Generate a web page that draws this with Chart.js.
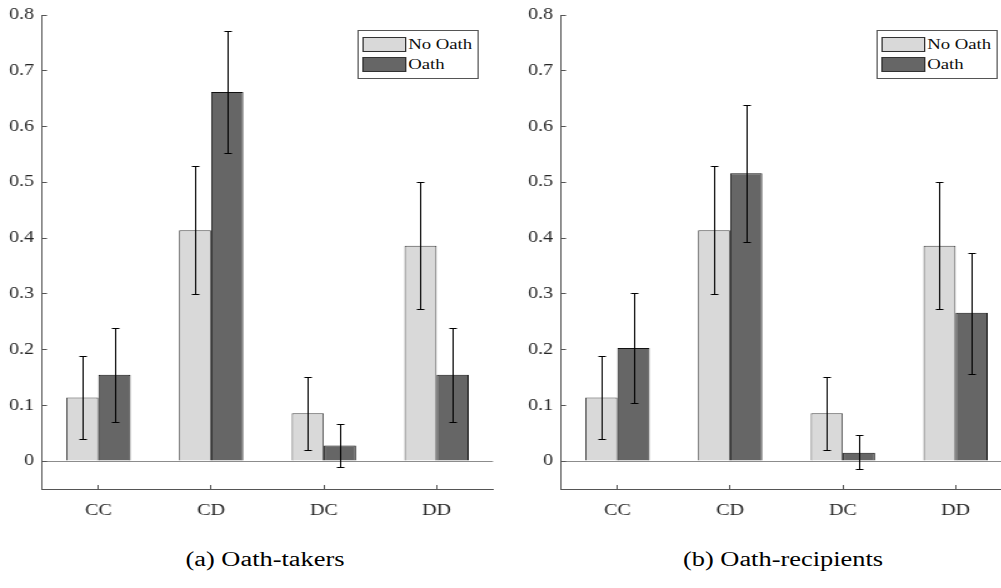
<!DOCTYPE html>
<html>
<head>
<meta charset="utf-8">
<script src="https://cdn.jsdelivr.net/npm/chart.js@4"></script>
<style>
    html, body { margin: 0; padding: 0; width: 1001px; height: 588px; overflow: hidden; background: #fff; }
    body { position: relative; font-family: 'Liberation Serif', 'DejaVu Serif', serif; color: #222; }
    /* the source figure is stretched sideways, so each panel is drawn narrow and widened */
    .panel { position: absolute; top: 0; width: 400px; height: 520px; transform: scaleX(1.25); transform-origin: 0 0; }
    .legend { position: absolute; left: 285.5px; top: 30px; width: 95px; height: 47px; border: 1px solid #555; background: #fff; }
    .item { position: absolute; left: 3px; height: 15px; line-height: 15px; font-size: 15px; white-space: nowrap; color: #111; }
    .swatch { display: inline-block; width: 33px; height: 13px; border: 1px solid #333; vertical-align: top; }
    .item span { position: absolute; left: 37px; top: 0; }
    .caption { position: absolute; top: 547px; width: 200px; text-align: center; font-size: 20px; line-height: 24px; color: #000; transform: scaleX(1.32); transform-origin: 50% 0; white-space: nowrap; }
</style>
</head>
<body>
<div class="panel" style="left:0px"><canvas id="chartA" width="400" height="520"></canvas><div class="legend" id="legendA"></div></div>
<div class="panel" style="left:519px"><canvas id="chartB" width="400" height="520"></canvas><div class="legend" id="legendB"></div></div>
<div class="caption" style="left:165px">(a) Oath-takers</div>
<div class="caption" style="left:683px">(b) Oath-recipients</div>
<script>
const categories = ['CC', 'CD', 'DC', 'DD']
const yTicks = [0, 0.1, 0.2, 0.3, 0.4, 0.5, 0.6, 0.7, 0.8]
const seriesNames = ['No Oath', 'Oath']
const seriesColors = ['#d9d9d9', '#666666']

// same control group in both panels
const noOath = [0.114, 0.414, 0.086, 0.386]
const noOathLow = [0.040, 0.299, 0.020, 0.272]
const noOathHigh = [0.189, 0.530, 0.151, 0.500]

const takersOath = [0.155, 0.662, 0.028, 0.155]
const takersOathLow = [0.071, 0.552, -0.010, 0.071]
const takersOathHigh = [0.239, 0.772, 0.067, 0.239]

const recipientsOath = [0.203, 0.516, 0.015, 0.266]
const recipientsOathLow = [0.104, 0.393, -0.015, 0.157]
const recipientsOathHigh = [0.302, 0.638, 0.046, 0.374]

const tickFont = { family: "'Liberation Serif', 'DejaVu Serif', serif", size: 16 }
const axisColor = '#555'

const errorBars = {
    id: 'errorBars',
    afterDatasetsDraw(chart) {
        const ctx = chart.ctx
        const y = chart.scales.y
        ctx.save()
        ctx.strokeStyle = '#000'
        ctx.lineWidth = 1
        chart.data.datasets.forEach((ds, i) => {
            chart.getDatasetMeta(i).data.forEach((bar, j) => {
                const x = Math.round(bar.x) + 0.5
                const top = Math.round(y.getPixelForValue(ds.high[j])) + 0.5
                const bottom = Math.round(y.getPixelForValue(ds.low[j])) + 0.5
                ctx.beginPath()
                ctx.moveTo(x, top)
                ctx.lineTo(x, bottom)
                ctx.moveTo(x - 3, top)
                ctx.lineTo(x + 3, top)
                ctx.moveTo(x - 3, bottom)
                ctx.lineTo(x + 3, bottom)
                ctx.stroke()
            })
        })
        ctx.restore()
    },
}

function makeChart(canvasId, legendId, oath, oathLow, oathHigh) {
    const data = {
        labels: categories,
        datasets: [
            {
                label: seriesNames[0],
                data: noOath,
                low: noOathLow,
                high: noOathHigh,
                backgroundColor: seriesColors[0],
                borderColor: '#444',
                borderWidth: 1,
            },
            {
                label: seriesNames[1],
                data: oath,
                low: oathLow,
                high: oathHigh,
                backgroundColor: seriesColors[1],
                borderColor: '#111',
                borderWidth: 1,
            },
        ],
    }

    const config = {
        type: 'bar',
        data: data,
        options: {
            responsive: false,
            animation: false,
            devicePixelRatio: 1,
            categoryPercentage: 0.57,
            barPercentage: 1,
            layout: { padding: { top: 15, right: 5.6, left: 0, bottom: 0 } },
            plugins: { legend: { display: false }, tooltip: { enabled: false } },
            scales: {
                x: {
                    grid: { offset: false, drawOnChartArea: false, tickLength: -4, tickColor: axisColor },
                    border: { color: axisColor },
                    ticks: { font: tickFont, color: '#262626', padding: 16 },
                    afterFit: (s) => { s.height = 31 },
                },
                y: {
                    min: -0.05,
                    max: 0.8,
                    afterBuildTicks: (s) => { s.ticks = yTicks.map((v) => ({ value: v })) },
                    grid: {
                        color: (c) => (c.tick && c.tick.value === 0 ? '#8c8c8c' : 'rgba(0,0,0,0)'),
                        tickColor: axisColor,
                        tickLength: -4,
                    },
                    border: { color: axisColor },
                    ticks: {
                        font: tickFont,
                        color: '#262626',
                        padding: 10.4,
                        callback: (v) => (v === 0 ? '0' : v.toFixed(1)),
                    },
                    afterFit: (s) => {
                        s.width = 33.6
                        s.paddingTop = 0
                        s.paddingBottom = 0
                    },
                },
            },
        },
        plugins: [errorBars],
    }

    const chart = new Chart(document.getElementById(canvasId), config)

    const legend = document.getElementById(legendId)
    chart.data.datasets.forEach((ds, i) => {
        const item = document.createElement('div')
        item.className = 'item'
        item.style.top = (6 + i * 20) + 'px'
        item.innerHTML = '<i class="swatch" style="background:' + ds.backgroundColor + '"></i><span></span>'
        item.querySelector('span').textContent = ds.label
        legend.appendChild(item)
    })
    return chart
}

const chartA = makeChart('chartA', 'legendA', takersOath, takersOathLow, takersOathHigh)
const chartB = makeChart('chartB', 'legendB', recipientsOath, recipientsOathLow, recipientsOathHigh)
</script>
</body>
</html>
